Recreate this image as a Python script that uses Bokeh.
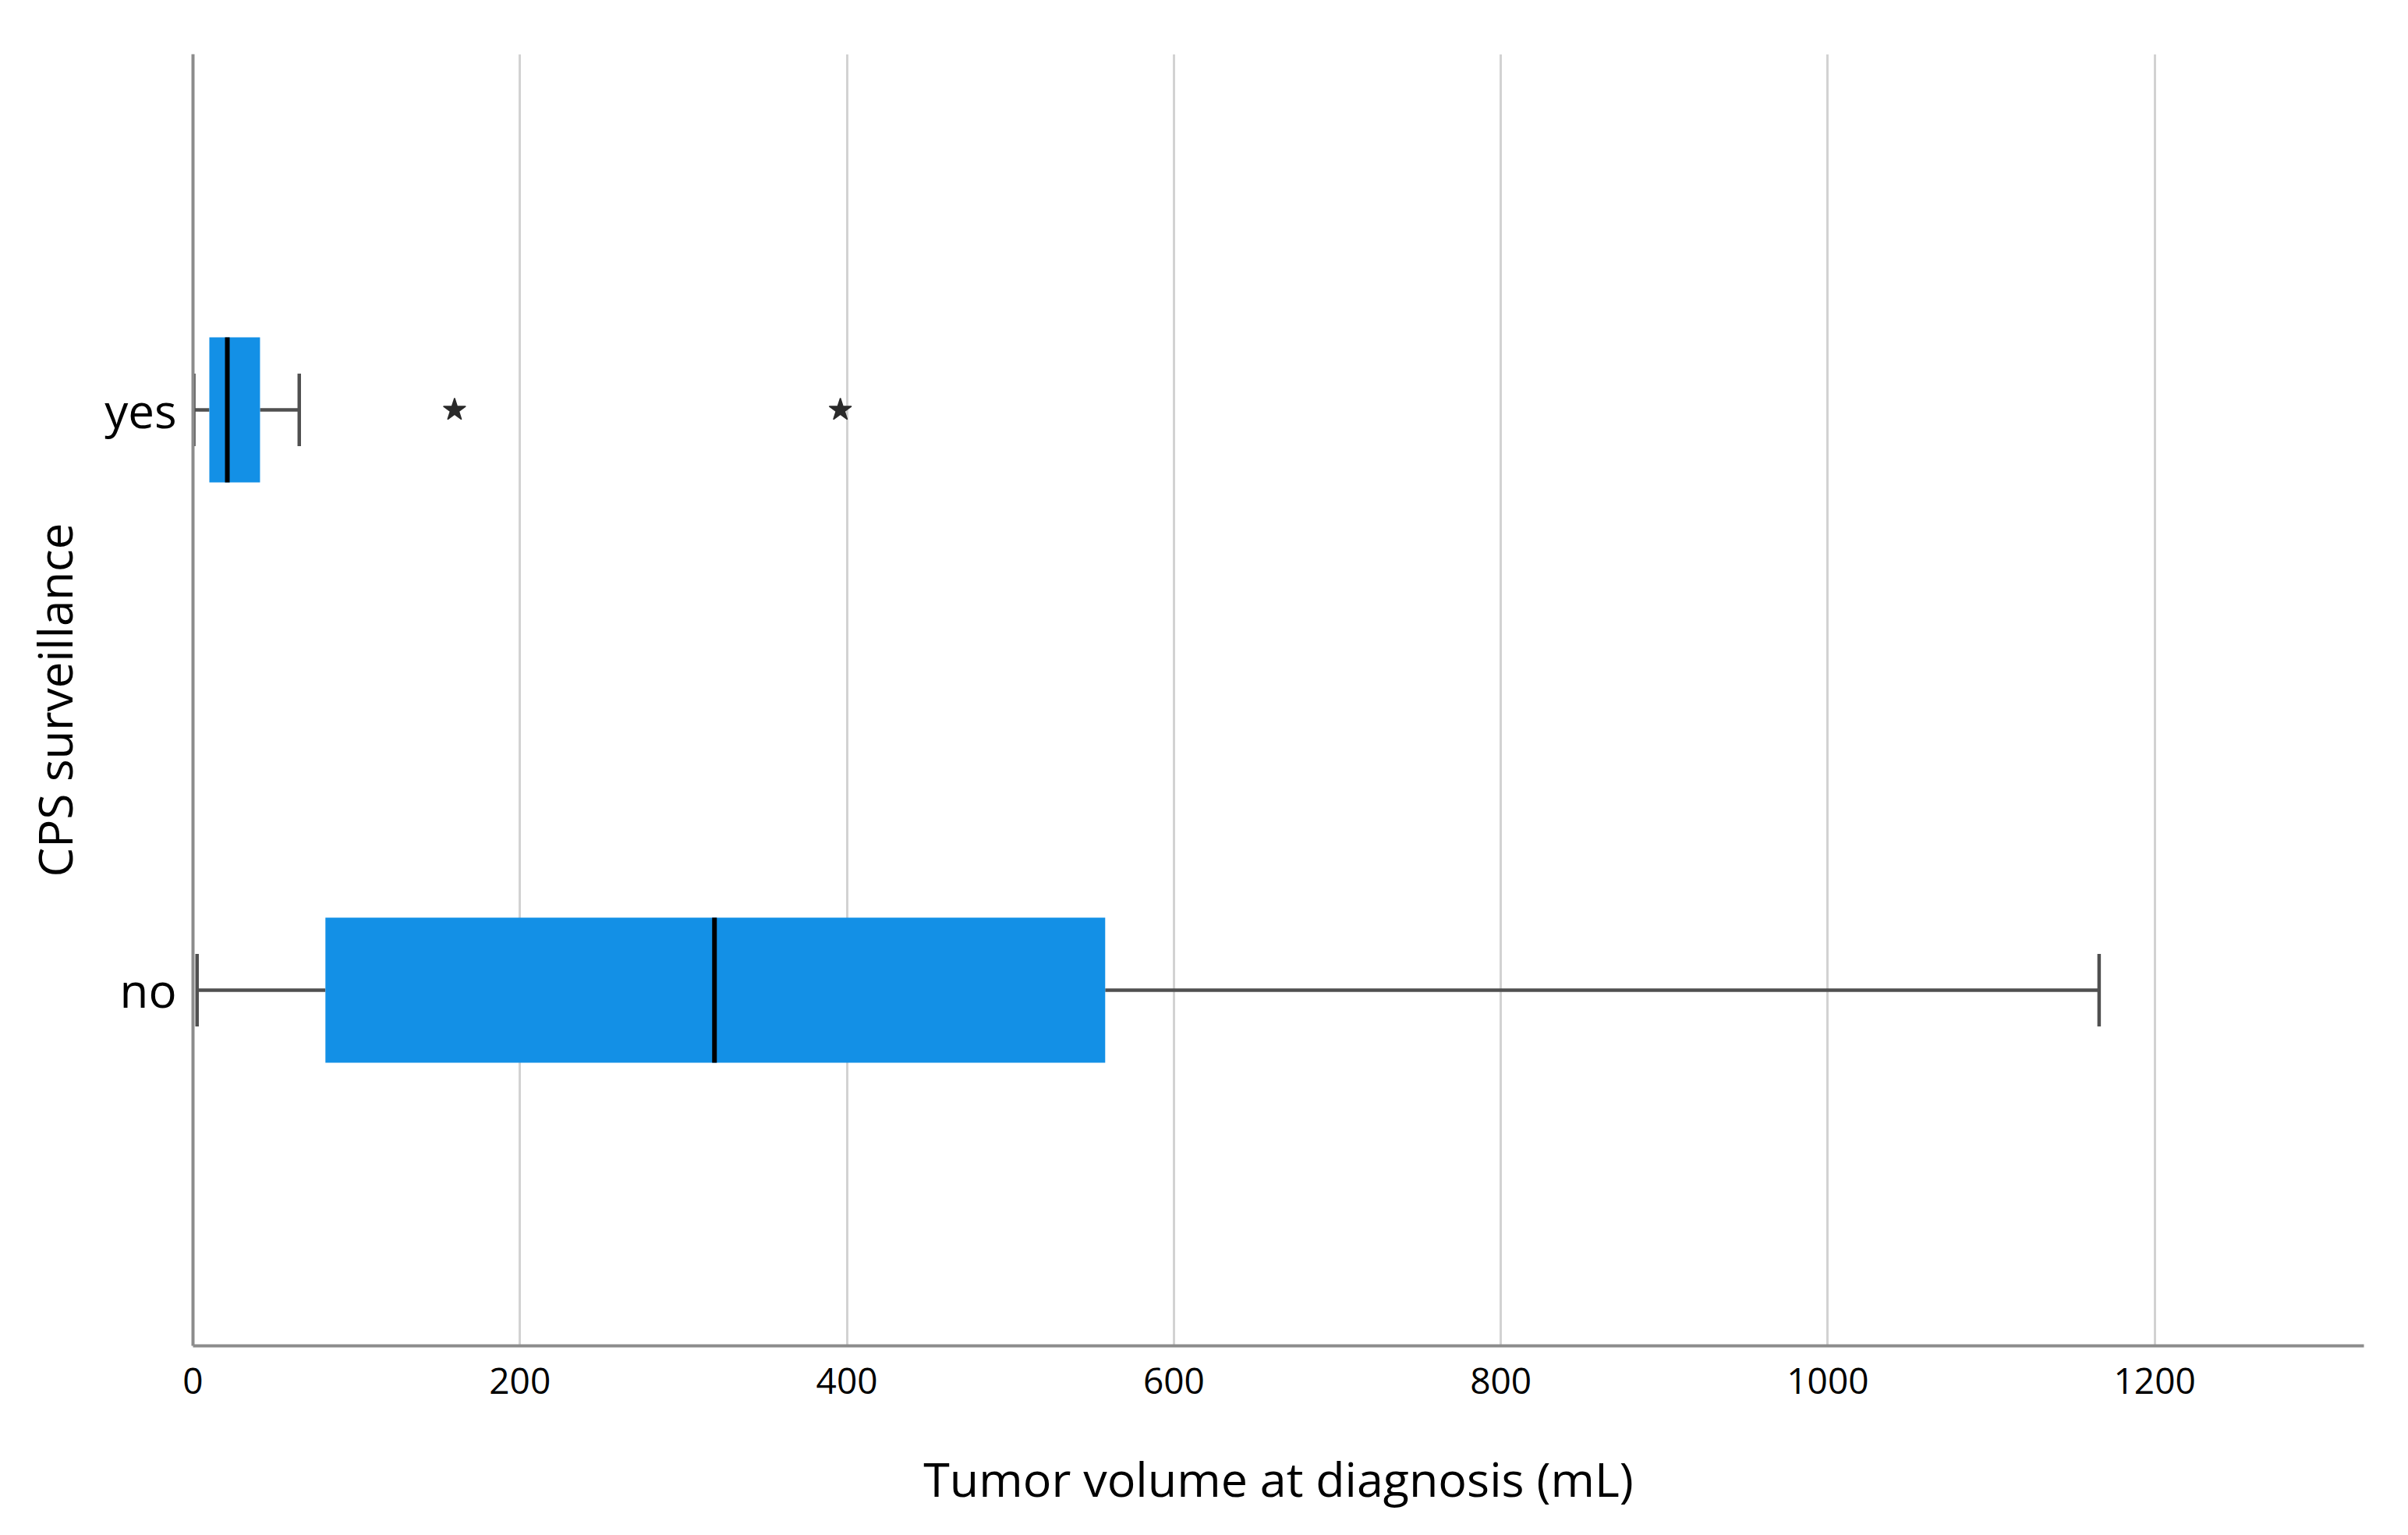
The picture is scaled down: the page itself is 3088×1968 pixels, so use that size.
from bokeh.plotting import figure
from bokeh.models import Range1d, FixedTicker, ColumnDataSource
from bokeh.embed import file_html
from bokeh.resources import INLINE

# ---- data ----
categories = ["no", "yes"]
cat_pos = [1, 2]
whisker_low = [2.5, 0.5]
q1 = [81, 10]
median = [319, 21]
q3 = [558, 41]
whisker_high = [1166, 65]
outlier_cat = ["yes", "yes"]
outlier_val = [160, 396]
x_ticks = [0, 200, 400, 600, 800, 1000, 1200]

BOX_H = 0.25
CAP_H = 0.125
FONT = "Open Sans"

p = figure(width=3072, height=1950, output_backend="svg", toolbar_location=None,
           x_range=Range1d(0, 1328), y_range=Range1d(0.387, 2.613),
           min_border_left=247, min_border_right=41, min_border_top=69,
           min_border_bottom=225)
p.outline_line_color = None
p.background_fill_color = "white"
p.border_fill_color = "white"

pos = dict(zip(categories, cat_pos))
src = ColumnDataSource(dict(y=cat_pos, lo=whisker_low, q1=q1, med=median, q3=q3, hi=whisker_high,
                            y0=[v - BOX_H / 2 for v in cat_pos], y1=[v + BOX_H / 2 for v in cat_pos],
                            c0=[v - CAP_H / 2 for v in cat_pos], c1=[v + CAP_H / 2 for v in cat_pos]))

wcol = "#505050"
# whiskers
p.segment(x0="lo", y0="y", x1="q1", y1="y", source=src, line_color=wcol, line_width=4.5)
p.segment(x0="q3", y0="y", x1="hi", y1="y", source=src, line_color=wcol, line_width=4.5)
# caps
p.segment(x0="lo", y0="c0", x1="lo", y1="c1", source=src, line_color=wcol, line_width=4.5)
p.segment(x0="hi", y0="c0", x1="hi", y1="c1", source=src, line_color=wcol, line_width=4.5)
# boxes
p.hbar(y="y", left="q1", right="q3", height=BOX_H, source=src,
       fill_color="#1390E6", line_color=None)
# median
p.segment(x0="med", y0="y0", x1="med", y1="y1", source=src, line_color="#000000", line_width=6)
# outliers
p.scatter(x=outlier_val, y=[pos[c] for c in outlier_cat], marker="star", size=30,
          fill_color="#2a2a2a", line_color="#2a2a2a", line_width=1.5)

# axes
p.xaxis.ticker = FixedTicker(ticks=x_ticks)
p.yaxis.ticker = FixedTicker(ticks=cat_pos)
p.yaxis.major_label_overrides = {v: c for c, v in zip(categories, cat_pos)}
p.xaxis.axis_label = "Tumor volume at diagnosis (mL)"
p.yaxis.axis_label = "CPS surveillance"
for ax in (p.xaxis, p.yaxis):
    ax.axis_line_color = "#8c8c8c"
    ax.axis_line_width = 4
    ax.major_tick_line_color = None
    ax.minor_tick_line_color = None
    ax.major_label_text_font = FONT
    ax.major_label_text_color = "#000000"
    ax.axis_label_text_font = FONT
    ax.axis_label_text_font_style = "normal"
    ax.axis_label_text_color = "#000000"
p.xaxis.major_label_text_font_size = "46px"
p.yaxis.major_label_text_font_size = "60px"
p.xaxis.axis_label_text_font_size = "61px"
p.yaxis.axis_label_text_font_size = "60px"
p.xaxis.major_label_standoff = 22
p.yaxis.major_label_standoff = 15
p.xaxis.axis_label_standoff = 64
p.yaxis.axis_label_standoff = 20

p.xgrid.grid_line_color = "#d2d2d2"
p.xgrid.grid_line_width = 3
p.ygrid.grid_line_color = None

open("out.html", "w").write(file_html(p, INLINE))
